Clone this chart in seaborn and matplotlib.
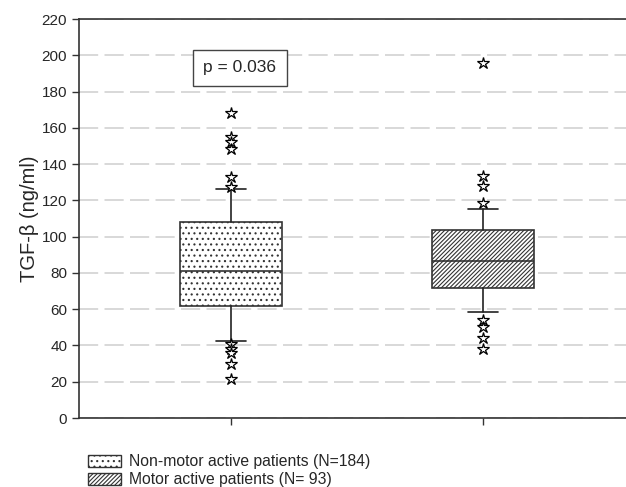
import matplotlib
matplotlib.use("Agg")
import matplotlib.pyplot as plt
import seaborn as sns
from matplotlib.patches import Patch

sns.set_style("white")
plt.rcParams['font.family'] = ['Liberation Sans', 'DejaVu Sans']
plt.rcParams['hatch.linewidth'] = 0.8

groups = ["Non-motor active patients (N=184)", "Motor active patients (N= 93)"]
q1 = [61.5, 71.5]
med = [81.0, 86.5]
q3 = [108.0, 103.8]
whislo = [42.5, 58.5]
whishi = [126.0, 115.0]
outliers = [
    [168.3, 154.7, 152.0, 148.3, 133.0, 127.5, 41.0, 37.8, 35.6, 30.0, 21.3],
    [195.5, 133.4, 128.0, 118.7, 54.0, 50.0, 44.0, 37.9],
]
hatches = ["...", "////////"]
p_text = "p = 0.036"
yticks = list(range(0, 221, 20))

fig = plt.figure(figsize=(6.26, 4.87), dpi=100)
ax = fig.add_axes([79/626, 69/487, 1 - 79/626, (418-19)/487])

stats = []
for i in range(len(groups)):
    stats.append(dict(label=groups[i], q1=q1[i], med=med[i], q3=q3[i],
                      whislo=whislo[i], whishi=whishi[i], fliers=outliers[i]))

bp = ax.bxp(stats, positions=[0, 1], widths=0.405, patch_artist=True,
            showfliers=True,
            boxprops=dict(facecolor="white", edgecolor="#333333", linewidth=1.2),
            medianprops=dict(color="#333333", linewidth=1.2),
            whiskerprops=dict(color="#222222", linewidth=1.2),
            capprops=dict(color="#222222", linewidth=1.2),
            capwidths=0.12,
            flierprops=dict(marker="*", markersize=9, markerfacecolor="white",
                            markeredgecolor="black", markeredgewidth=0.9, linestyle="none"),
            zorder=3)
for patch, h in zip(bp["boxes"], hatches):
    patch.set_hatch(h)

ax.set_xlim(-0.603, 1.567)
ax.set_ylim(0, 220)
ax.set_yticks(yticks)
ax.set_xticks([0, 1])
ax.set_xticklabels(["", ""])
ax.yaxis.grid(True, linestyle=(0, (11.5, 3.8)), color="#d2d2d2", linewidth=1.2, zorder=0)
ax.set_axisbelow(True)
for s in ["left", "bottom", "top"]:
    ax.spines[s].set_visible(True)
    ax.spines[s].set_color("#333333")
    ax.spines[s].set_linewidth(1.2)
ax.spines["right"].set_visible(False)
ax.tick_params(axis="both", direction="out", length=5, width=1, color="#333333",
               labelsize=11, left=True, bottom=True)
ax.set_ylabel("TGF-β (ng/ml)", fontsize=14.5)
ax.yaxis.set_label_coords(-0.074, 0.5)

ax.text(0.035, 193, p_text, fontsize=12.5, ha="center", va="center",
        bbox=dict(boxstyle="square,pad=0.62", facecolor="white", edgecolor="#444444", linewidth=1.0),
        zorder=5)

handles = [Patch(facecolor="white", edgecolor="#333333", hatch=h, label=g)
           for g, h in zip(groups, hatches)]
fig.legend(handles=handles, loc="upper left", bbox_to_anchor=(82/626, 1 - 448/487),
           frameon=False, fontsize=11.3, handlelength=2.1, handleheight=0.8,
           handletextpad=0.5, labelspacing=0.2, borderaxespad=0)

fig.savefig("out.png", dpi=100)
